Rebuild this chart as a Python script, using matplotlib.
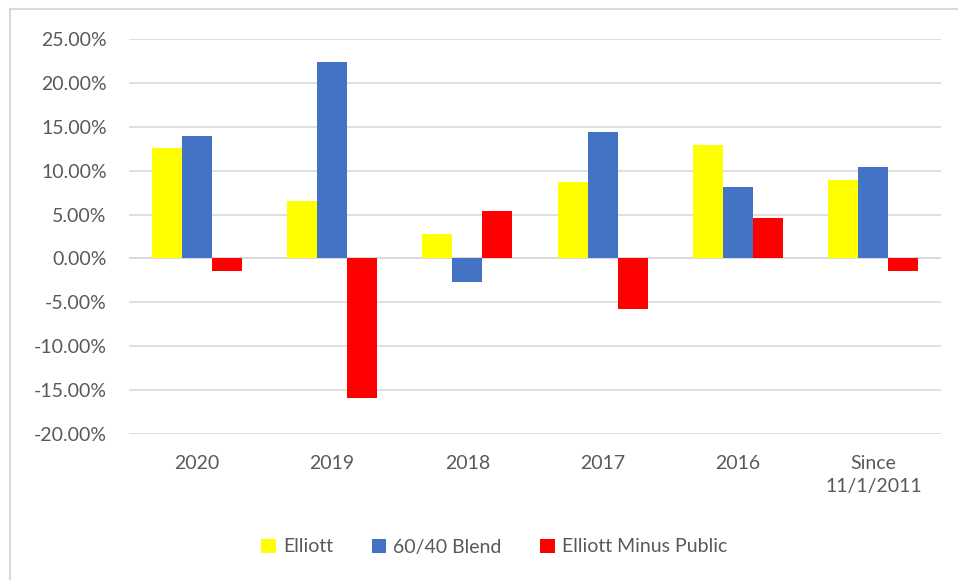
import numpy as np
import matplotlib.pyplot as plt
from matplotlib.patches import Rectangle
from matplotlib.ticker import FuncFormatter

categories = ['2020', '2019', '2018', '2017', '2016', 'Since\n11/1/2011']
elliott = [12.6, 6.5, 2.8, 8.7, 12.9, 8.95]
blend = [14.0, 22.4, -2.65, 14.45, 8.15, 10.4]
minus_public = [-1.45, -15.95, 5.45, -5.8, 4.65, -1.45]

plt.rcParams['font.family'] = ['Lato', 'DejaVu Sans']
txt = '#595959'
grid = '#D9D9D9'

fig = plt.figure(figsize=(9.58, 5.8), dpi=100)
ax = fig.add_axes([129 / 958, 1 - 434 / 580, 812 / 958, 395 / 580])

x = np.arange(len(categories))
w = 0.222
ax.bar(x - w, elliott, w, color='#FFFF00', label='Elliott', zorder=3)
ax.bar(x, blend, w, color='#4472C4', label='60/40 Blend', zorder=3)
ax.bar(x + w, minus_public, w, color='#FF0000', label='Elliott Minus Public', zorder=3)

ax.set_xlim(-0.5, len(categories) - 0.5)
ax.set_ylim(-20, 25)
ax.set_yticks(np.arange(-20, 26, 5))
ax.yaxis.set_major_formatter(FuncFormatter(lambda v, p: f'{v:.2f}%'))
ax.set_xticks(x)
ax.set_xticklabels(categories, linespacing=1.45)
ax.grid(axis='y', color=grid, linewidth=1.2, zorder=0)
ax.axhline(0, color=grid, linewidth=1.2, zorder=1)
for s in ax.spines.values():
    s.set_visible(False)
ax.tick_params(length=0, colors=txt, labelsize=14)
ax.tick_params(axis='y', pad=16)
ax.tick_params(axis='x', pad=15)

fig.legend(loc='center', bbox_to_anchor=(0.516, 1 - 547 / 580), ncol=3,
           frameon=False, fontsize=14, labelcolor=txt, handlelength=0.75,
           handleheight=0.75, handletextpad=0.35, columnspacing=2.0)

# chart area border (top and left edges visible)
fig.patches.append(Rectangle((10 / 958, -0.1), 1.2, 1 - 9 / 580 + 0.1,
                             transform=fig.transFigure, fill=False,
                             edgecolor=grid, linewidth=1.5))

fig.savefig('out.png', dpi=100)
